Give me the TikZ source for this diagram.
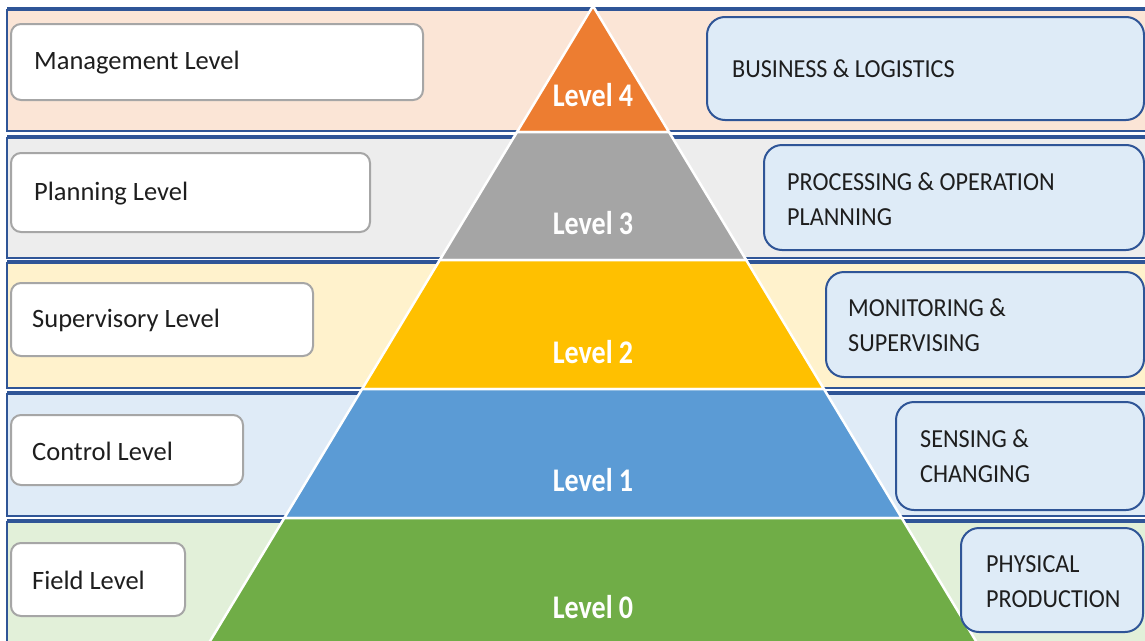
\documentclass[tikz,border=0pt]{standalone}
\usepackage{fontspec}
\setmainfont{Carlito}
\newfontfamily\levelfont[FakeStretch=0.85]{Carlito}
\newfontfamily\infofont[FakeStretch=0.93]{Carlito}

\definecolor{bandline}{HTML}{2F5597}
\definecolor{bandA}{HTML}{FBE5D6}
\definecolor{bandB}{HTML}{EDEDED}
\definecolor{bandC}{HTML}{FFF2CC}
\definecolor{bandD}{HTML}{DFEBF7}
\definecolor{bandE}{HTML}{E2F0D9}
\definecolor{lvlA}{HTML}{ED7D31}
\definecolor{lvlB}{HTML}{A5A5A5}
\definecolor{lvlC}{HTML}{FFC000}
\definecolor{lvlD}{HTML}{5B9BD5}
\definecolor{lvlE}{HTML}{70AD47}
\definecolor{greyedge}{HTML}{A6A6A6}
\definecolor{infofill}{HTML}{DEEBF7}
\definecolor{ink}{HTML}{1E1E1E}

\tikzset{
  bandedge/.style={draw=bandline, line width=2pt},
  bandtop/.style={draw=bandline, line width=3.5pt},
  tier/.style={draw=white, line width=2.5pt, line join=miter},
  tierlabel/.style={text=white, font=\levelfont\bfseries\fontsize{33}{36}\selectfont, inner sep=0pt},
  namebox/.style={draw=greyedge, fill=white, line width=2pt, rounded corners=10pt, inner sep=0pt},
  nametext/.style={text=ink, font=\fontsize{26.5}{30}\selectfont, inner sep=0pt, anchor=west},
  infobox/.style={draw=bandline, fill=infofill, line width=2pt, rounded corners=18pt, inner sep=0pt},
  infotext/.style={text=ink, font=\infofont\fontsize{26}{35}\selectfont, inner sep=0pt, anchor=west, align=left}
}

\begin{document}
\begin{tikzpicture}[x=1pt,y=-1pt]
\useasboundingbox (0,0) rectangle (1145,640);
\clip (0,0) rectangle (1145,640);

% horizontal bands
\fill[bandA] (7,9) rectangle (1150,131);
\draw[bandedge] (1150,131) -- (7,131) -- (7,9);
\draw[bandtop] (7,9) -- (1150,9);

\fill[bandB] (7,137) rectangle (1150,258);
\draw[bandedge] (1150,258) -- (7,258) -- (7,137);
\draw[bandtop] (7,137) -- (1150,137);

\fill[bandC] (7,262) rectangle (1150,388);
\draw[bandedge] (1150,388) -- (7,388) -- (7,262);
\draw[bandtop] (7,262) -- (1150,262);

\fill[bandD] (7,393) rectangle (1150,516);
\draw[bandedge] (1150,516) -- (7,516) -- (7,393);
\draw[bandtop] (7,393) -- (1150,393);

\fill[bandE] (7,521) rectangle (1150,650);
\draw[bandedge] (7,650) -- (7,521);
\draw[bandtop] (7,521) -- (1150,521);

% pyramid tiers
\filldraw[tier, fill=lvlA] (593,6) -- (669,132) -- (517,132) -- cycle;
\filldraw[tier, fill=lvlB] (517,132) -- (669,132) -- (746.2,260) -- (439.8,260) -- cycle;
\filldraw[tier, fill=lvlC] (439.8,260) -- (746.2,260) -- (823.9,389) -- (362.1,389) -- cycle;
\filldraw[tier, fill=lvlD] (362.1,389) -- (823.9,389) -- (901.7,518) -- (284.3,518) -- cycle;
\filldraw[tier, fill=lvlE] (284.3,518) -- (901.7,518) -- (978.3,645) -- (207.7,645) -- cycle;

\node[tierlabel] (l4) at (593,95) {Level 4};
\node[tierlabel] (l3) at (593,223) {Level 3};
\node[tierlabel] (l2) at (593,352) {Level 2};
\node[tierlabel] (l1) at (593,480) {Level 1};
\node[tierlabel] (l0) at (593,607) {Level 0};

% level names on the left
\node[namebox, minimum width=412, minimum height=76] (n4) at (217,62) {};
\node[nametext] (n4t) at ([xshift=24pt,yshift=-1pt]n4.west) {Management Level};
\node[namebox, minimum width=359, minimum height=79] (n3) at (190.5,192.5) {};
\node[nametext] (n3t) at ([xshift=24pt,yshift=-1pt]n3.west) {Planning Level};
\node[namebox, minimum width=302, minimum height=73] (n2) at (162,319.5) {};
\node[nametext] (n2t) at ([xshift=22pt,yshift=-1pt]n2.west) {Supervisory Level};
\node[namebox, minimum width=232, minimum height=70] (n1) at (127,450) {};
\node[nametext] (n1t) at ([xshift=22pt,yshift=-1pt]n1.west) {Control Level};
\node[namebox, minimum width=174, minimum height=73] (n0) at (98,579.5) {};
\node[nametext] (n0t) at ([xshift=22pt,yshift=-1pt]n0.west) {Field Level};

% functions on the right
\node[infobox, minimum width=437, minimum height=103] (f4) at (925.5,68.5) {};
\node[infotext] (f4t) at ([xshift=26pt]f4.west) {BUSINESS \& LOGISTICS};
\node[infobox, minimum width=380, minimum height=105] (f3) at (954,197.5) {};
\node[infotext] (f3t) at ([xshift=24pt,yshift=-2pt]f3.west) {PROCESSING \& OPERATION\\PLANNING};
\node[infobox, minimum width=318, minimum height=105] (f2) at (985,324.5) {};
\node[infotext] (f2t) at ([xshift=23pt,yshift=-1pt]f2.west) {MONITORING \&\\SUPERVISING};
\node[infobox, minimum width=248, minimum height=108] (f1) at (1020,456) {};
\node[infotext] (f1t) at ([xshift=25pt]f1.west) {SENSING \&\\CHANGING};
\node[infobox, minimum width=182, minimum height=104] (f0) at (1052,580) {};
\node[infotext] (f0t) at ([xshift=26pt,yshift=-2pt]f0.west) {PHYSICAL\\PRODUCTION};
\end{tikzpicture}
\end{document}
